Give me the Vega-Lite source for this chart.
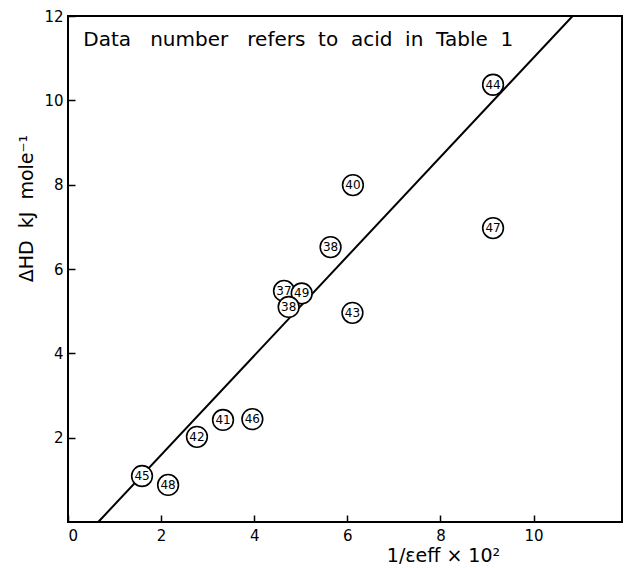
{
  "$schema": "https://vega.github.io/schema/vega-lite/v6.json",
  "width": 554,
  "height": 506,
  "autosize": {"type": "none"},
  "padding": {"left": 68, "top": 16, "right": 2, "bottom": 46},
  "background": "white",
  "config": {
    "font": "DejaVu Sans",
    "view": {"stroke": "black", "strokeWidth": 2},
    "axis": {
      "grid": false,
      "ticks": true,
      "domain": false,
      "offset": -7,
      "tickColor": "black",
      "tickWidth": 1.5,
      "tickSize": 7,
      "labelColor": "black",
      "labelFont": "DejaVu Sans",
      "labelFontSize": 15,
      "titleColor": "black",
      "titleFont": "DejaVu Sans",
      "titleFontWeight": "normal",
      "titleFontSize": 19
    }
  },
  "datasets": {
    "points": [
      {"x": 4.64, "y": 5.48, "acid": "37"},
      {"x": 5.02, "y": 5.42, "acid": "49"},
      {"x": 4.74, "y": 5.1, "acid": "38"},
      {"x": 5.64, "y": 6.52, "acid": "38"},
      {"x": 6.12, "y": 7.99, "acid": "40"},
      {"x": 6.11, "y": 4.96, "acid": "43"},
      {"x": 9.13, "y": 10.37, "acid": "44"},
      {"x": 9.13, "y": 6.97, "acid": "47"},
      {"x": 3.33, "y": 2.42, "acid": "41"},
      {"x": 3.96, "y": 2.44, "acid": "46"},
      {"x": 2.77, "y": 2.02, "acid": "42"},
      {"x": 1.59, "y": 1.09, "acid": "45"},
      {"x": 2.15, "y": 0.88, "acid": "48"}
    ],
    "fit": [
      {"x": 0.65, "y": 0},
      {"x": 10.84, "y": 12}
    ],
    "note": [
      {"x": 0.33, "y": 11.42, "text": "Data\u00a0\u00a0\u00a0number\u00a0\u00a0\u00a0refers\u00a0\u00a0to\u00a0\u00a0acid\u00a0\u00a0in\u00a0\u00a0Table\u00a0\u00a01"}
    ]
  },
  "layer": [
    {
      "data": {"name": "fit"},
      "mark": {"type": "line", "color": "black", "strokeWidth": 2},
      "encoding": {
        "x": {
          "field": "x", "type": "quantitative",
          "scale": {"domain": [0, 11.9], "nice": false, "zero": false},
          "axis": {
            "values": [0, 2, 4, 6, 8, 10],
            "labelPadding": 6,
            "title": "1/\u03b5eff \u00d7 10\u00b2",
            "titleX": 375,
            "titleY": 46,
            "titleAlign": "center",
            "titleBaseline": "alphabetic"
          }
        },
        "y": {
          "field": "y", "type": "quantitative",
          "scale": {"domain": [0, 12], "nice": false, "zero": false},
          "axis": {
            "values": [2, 4, 6, 8, 10, 12],
            "labelPadding": 5,
            "title": "\u0394HD\u00a0\u00a0kJ\u00a0\u00a0mole\u207b\u00b9",
            "titleAngle": -90,
            "titleX": -49,
            "titleY": 192,
            "titleAlign": "center",
            "titleBaseline": "middle"
          }
        }
      }
    },
    {
      "data": {"name": "points"},
      "mark": {"type": "point", "shape": "circle", "filled": true, "fill": "white", "stroke": "black", "strokeWidth": 1.6, "size": 430, "opacity": 1},
      "encoding": {
        "x": {"field": "x", "type": "quantitative"},
        "y": {"field": "y", "type": "quantitative"}
      }
    },
    {
      "data": {"name": "points"},
      "mark": {"type": "text", "fontSize": 12, "color": "black", "font": "DejaVu Sans"},
      "encoding": {
        "x": {"field": "x", "type": "quantitative"},
        "y": {"field": "y", "type": "quantitative"},
        "text": {"field": "acid", "type": "nominal"}
      }
    },
    {
      "data": {"name": "note"},
      "mark": {"type": "text", "fontSize": 20, "align": "left", "baseline": "middle", "color": "black", "font": "DejaVu Sans"},
      "encoding": {
        "x": {"field": "x", "type": "quantitative"},
        "y": {"field": "y", "type": "quantitative"},
        "text": {"field": "text", "type": "nominal"}
      }
    }
  ]
}
